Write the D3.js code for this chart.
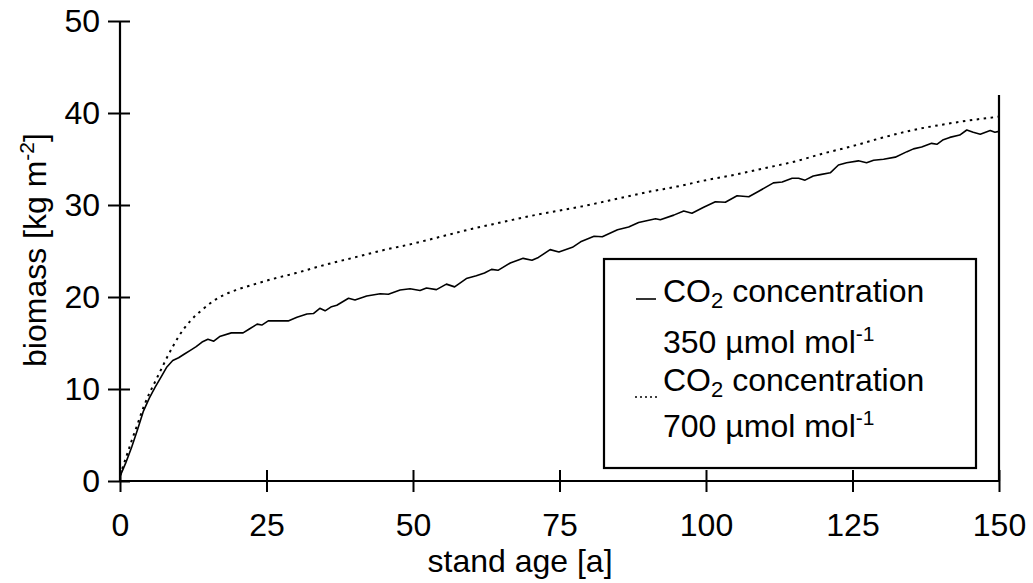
<!DOCTYPE html>
<html>
<head>
<meta charset="utf-8">
<script src="https://cdn.jsdelivr.net/npm/d3@7"></script>
<style>
  body { margin: 0; background: #fff; }
  svg { display: block; }
  text { font-family: "Liberation Sans", Arial, Helvetica, sans-serif; fill: #000; }
</style>
</head>
<body>
<svg id="chart" width="1033" height="583"></svg>
<script>
// Stand age (years) and simulated biomass (kg m-2), ambient CO2 (350 µmol mol-1)
const ages350 = [0, 1, 2, 3, 4, 5, 6, 7, 8, 9, 10, 11, 12, 13, 14, 15, 16, 17, 19, 21, 22, 23.4, 24.2, 25.3, 28.7,
  30.2, 31.9, 33, 34.1, 35, 36.1, 37, 39, 40.1, 42.1, 44.4, 45.8, 47.8, 49.5, 51.2, 52.3, 54, 55.7, 57.1, 59.1,
  60.8, 62.2, 63.4, 64.5, 66.6, 68.8, 70.3, 71.4, 73.4, 74.9, 77.2, 78.6, 80.9, 82.3, 84.9, 86.8, 88.5, 91.4,
  92.2, 94.5, 96.2, 97.6, 99.6, 101.6, 103.3, 105.3, 107.3, 109, 111.5, 113, 114.7, 115.8, 116.9, 118.3, 119.5,
  121.2, 122.6, 124, 126, 127.4, 128.6, 130.3, 132.3, 134.3, 135.4, 136.8, 138.5, 139.4, 140.5, 141.6, 143.3,
  144.5, 145.6, 146.8, 148.5, 149.3, 150];
const biomass350 = [0.5, 2.0, 3.7, 5.6, 7.6, 9.0, 10.2, 11.3, 12.4, 13.1, 13.4, 13.8, 14.2, 14.6, 15.1, 15.4, 15.2,
  15.7, 16.1, 16.1, 16.5, 17.05, 16.95, 17.4, 17.4, 17.8, 18.15, 18.2, 18.77, 18.5, 18.95, 19.1, 19.86, 19.67,
  20.1, 20.36, 20.3, 20.76, 20.9, 20.7, 20.98, 20.8, 21.4, 21.1, 22.0, 22.3, 22.6, 23.0, 22.9, 23.7, 24.2, 24.0,
  24.3, 25.15, 24.9, 25.4, 26.0, 26.6, 26.55, 27.3, 27.6, 28.1, 28.5, 28.4, 28.9, 29.35, 29.1, 29.75, 30.36,
  30.3, 31.0, 30.9, 31.5, 32.4, 32.5, 32.9, 32.9, 32.7, 33.15, 33.3, 33.5, 34.35, 34.6, 34.8, 34.6, 34.86, 34.97,
  35.2, 35.8, 36.1, 36.3, 36.7, 36.6, 37.1, 37.35, 37.6, 38.15, 37.9, 37.7, 38.1, 37.9, 38.0];

// Elevated CO2 (700 µmol mol-1)
const ages700 = [0, 1, 2, 3, 4, 5, 6, 7, 8, 9, 10, 12, 14, 16, 18, 20, 23, 26, 30, 35, 40, 45, 50, 55, 60, 65,
  70, 75, 80, 85, 90, 95, 100, 105, 110, 115, 120, 125, 130, 135, 140, 145, 150];
const biomass700 = [0.6, 2.5, 4.4, 6.2, 8.0, 9.5, 10.8, 12.1, 13.4, 14.6, 15.7, 17.4, 18.6, 19.6, 20.3, 20.8,
  21.4, 21.95, 22.6, 23.5, 24.3, 25.1, 25.8, 26.6, 27.4, 28.1, 28.8, 29.4, 30.0, 30.7, 31.4, 32.0, 32.7, 33.3,
  34.0, 34.7, 35.6, 36.4, 37.3, 38.1, 38.7, 39.2, 39.6];

const xTicks = [0, 25, 50, 75, 100, 125, 150];
const yTicks = [0, 10, 20, 30, 40, 50];

const svg = d3.select("#chart");
const plotLeft = 120, plotRight = 999, plotTop = 21, plotBottom = 481;
const fontSize = 32;

const x = d3.scaleLinear().domain([0, 150]).range([plotLeft, plotRight]);
const y = d3.scaleLinear().domain([0, 50]).range([plotBottom, plotTop]);

// Right-hand frame line
svg.append("line")
  .attr("x1", plotRight).attr("x2", plotRight)
  .attr("y1", 95).attr("y2", plotBottom)
  .attr("stroke", "#000").attr("stroke-width", 2.2);

// Axes: ticks cross the axis line on both sides
const xAxis = svg.append("g").attr("transform", `translate(0,${plotBottom})`)
  .call(d3.axisBottom(x).tickValues(xTicks).tickSize(11).tickPadding(21).tickSizeOuter(0));
xAxis.selectAll(".tick line").attr("y1", -11);
const yAxis = svg.append("g").attr("transform", `translate(${plotLeft},0)`)
  .call(d3.axisLeft(y).tickValues(yTicks).tickSize(12).tickPadding(8).tickSizeOuter(0));
yAxis.selectAll(".tick line").attr("x1", 10);

[xAxis, yAxis].forEach(a => {
  a.select(".domain").attr("stroke", "#000").attr("stroke-width", 2.2);
  a.selectAll(".tick line").attr("stroke", "#000").attr("stroke-width", 2);
  a.selectAll(".tick text")
    .style("font-family", '"Liberation Sans", Arial, sans-serif')
    .style("font-size", fontSize + "px").attr("fill", "#000");
});
xAxis.select(".domain").attr("d", `M${plotLeft},0H${plotRight}`);
yAxis.select(".domain").attr("d", `M0,${plotTop}V${plotBottom}`);

// Curves
svg.append("path")
  .datum(ages700.map((a, i) => [a, biomass700[i]]))
  .attr("d", d3.line().x(d => x(d[0])).y(d => y(d[1])).curve(d3.curveMonotoneX))
  .attr("fill", "none").attr("stroke", "#000").attr("stroke-width", 2)
  .attr("stroke-dasharray", "2.5,4.5");
svg.append("path")
  .datum(ages350.map((a, i) => [a, biomass350[i]]))
  .attr("d", d3.line().x(d => x(d[0])).y(d => y(d[1])))
  .attr("fill", "none").attr("stroke", "#000").attr("stroke-width", 1.6)
  .attr("stroke-linejoin", "round");

// Axis titles
svg.append("text")
  .attr("x", 520).attr("y", 572)
  .attr("text-anchor", "middle")
  .style("font-size", fontSize + "px")
  .text("stand age [a]");

const yTitle = svg.append("text")
  .attr("transform", "translate(46,250) rotate(-90)")
  .attr("text-anchor", "middle")
  .style("font-size", fontSize + "px");
yTitle.append("tspan").text("biomass [kg m");
yTitle.append("tspan").attr("dy", -12).style("font-size", "21px").text("-2");
yTitle.append("tspan").attr("dy", 12).text("]");

// Legend
const legend = svg.append("g");
legend.append("rect")
  .attr("x", 604).attr("y", 259).attr("width", 372).attr("height", 209)
  .attr("fill", "#fff").attr("stroke", "#000").attr("stroke-width", 2.2);

legend.append("line")
  .attr("x1", 636).attr("x2", 656).attr("y1", 299).attr("y2", 299)
  .attr("stroke", "#000").attr("stroke-width", 1.6);
legend.append("line")
  .attr("x1", 635).attr("x2", 657).attr("y1", 397).attr("y2", 397)
  .attr("stroke", "#000").attr("stroke-width", 1.6).attr("stroke-dasharray", "2,3");

function co2Label(yBase) {
  const t = legend.append("text").attr("x", 663).attr("y", yBase).style("font-size", fontSize + "px");
  t.append("tspan").text("CO");
  t.append("tspan").attr("dy", 6).style("font-size", "22px").text("2");
  t.append("tspan").attr("dy", -6).text(" concentration");
}
function unitLabel(yBase, value) {
  const t = legend.append("text").attr("x", 663).attr("y", yBase).style("font-size", fontSize + "px");
  t.append("tspan").text(value + " µmol mol");
  t.append("tspan").attr("dy", -12).style("font-size", "21px").text("-1");
}
co2Label(302);
unitLabel(353, 350);
co2Label(391);
unitLabel(437, 700);
</script>
</body>
</html>
